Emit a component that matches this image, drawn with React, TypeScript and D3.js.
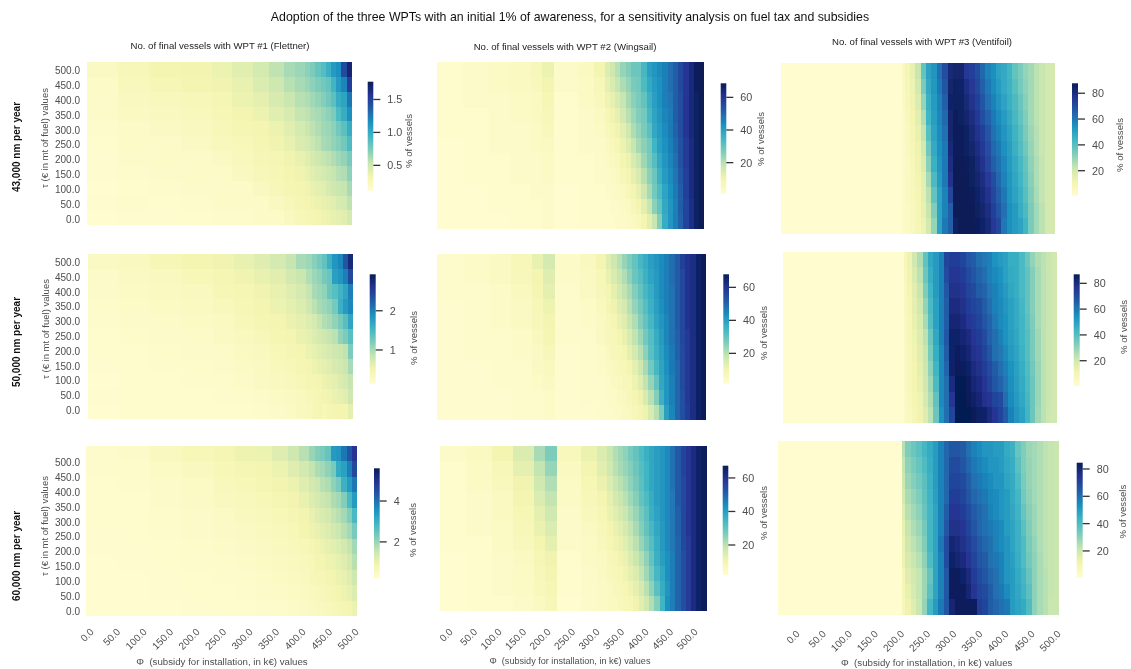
import React from "react";
import * as d3 from "d3";

const mainTitle = "Adoption of the three WPTs with an initial 1% of awareness, for a sensitivity analysis on fuel tax and subsidies";
const columnTitles = ["No. of final vessels with WPT #1 (Flettner)", "No. of final vessels with WPT #2 (Wingsail)", "No. of final vessels with WPT #3 (Ventifoil)"];
const rowTitles = ["43,000 nm per year", "50,000 nm per year", "60,000 nm per year"];
const tauTicks = [500, 450, 400, 350, 300, 250, 200, 150, 100, 50, 0];
const phiTicks = [0, 50, 100, 150, 200, 250, 300, 350, 400, 450, 500];
const yAxisLabel = "τ (€ in mt of fuel) values";
const xAxisLabel = "Φ  (subsidy for installation, in k€) values";
const colorbarLabel = "% of vessels";

// start of each column band (k€), one list per technology
const flettnerPhi = [0, 60, 120, 180, 240, 280, 320, 350, 380, 400, 420, 430, 440, 450, 460, 470, 480, 490, 500];
const wingsailPhi = [0, 50, 100, 140, 180, 200, 224, 270, 300, 320, 330, 340, 350, 360, 370, 380, 390, 400, 410, 420, 430, 440, 450, 460, 470, 480, 490, 500];
const ventifoilPhi = [0, 225, 230, 240, 250, 260, 270, 280, 290, 300, 310, 320, 330, 340, 350, 360, 370, 380, 390, 400, 410, 420, 430, 440, 450, 460, 470, 480, 490, 500];

// rows run from tau = 500 (top) to tau = 0 (bottom)
const flettner43 = [
  [.20,.26,.32,.33,.36,.42,.48,.55,.62,.66,.70,.75,.82,.88,.98,1.1,1.15,1.45,1.68],
  [.18,.24,.28,.32,.34,.38,.44,.50,.58,.62,.66,.70,.74,.78,.82,.95,1.1,1.2,1.5],
  [.17,.22,.24,.26,.30,.36,.40,.46,.52,.58,.60,.64,.68,.72,.78,.85,1.0,1.05,1.25],
  [.16,.20,.22,.24,.28,.32,.36,.42,.46,.54,.56,.60,.62,.66,.70,.75,.90,1.0,1.15],
  [.15,.18,.20,.22,.26,.30,.32,.36,.42,.48,.52,.56,.60,.64,.66,.70,.78,.85,1.0],
  [.14,.17,.18,.20,.24,.26,.30,.34,.38,.44,.48,.52,.56,.62,.64,.68,.72,.78,.90],
  [.13,.16,.17,.18,.20,.24,.28,.30,.34,.38,.42,.46,.50,.54,.56,.60,.64,.68,.76],
  [.13,.15,.16,.17,.18,.22,.26,.28,.32,.34,.38,.42,.44,.48,.50,.54,.58,.60,.70],
  [.12,.14,.15,.16,.17,.18,.22,.26,.30,.32,.34,.38,.40,.42,.46,.50,.52,.54,.62],
  [.13,.15,.14,.15,.17,.17,.18,.22,.26,.30,.32,.34,.36,.38,.40,.42,.46,.48,.56],
  [.12,.13,.13,.14,.15,.15,.17,.18,.22,.26,.28,.30,.32,.34,.36,.38,.40,.42,.48],
];
const flettner50 = [
  [.28,.34,.42,.48,.52,.58,.66,.75,.85,1.0,1.05,1.15,1.25,1.35,1.6,1.85,1.95,2.3,2.75],
  [.24,.28,.34,.40,.46,.52,.58,.64,.76,.82,.95,1.05,1.1,1.25,1.3,1.75,1.85,2.0,2.4],
  [.22,.26,.30,.34,.42,.46,.52,.58,.66,.75,.85,1.0,1.05,1.1,1.3,1.4,1.55,1.7,2.0],
  [.20,.24,.26,.30,.36,.42,.50,.55,.62,.68,.78,.90,1.0,1.05,1.1,1.25,1.6,1.8,1.95],
  [.19,.22,.24,.26,.30,.38,.44,.50,.56,.62,.68,.74,.85,.95,1.0,1.1,1.25,1.4,1.7],
  [.18,.20,.22,.24,.28,.32,.38,.44,.50,.56,.62,.68,.75,.80,.85,.90,1.1,1.2,1.4],
  [.17,.18,.20,.22,.24,.30,.34,.40,.44,.48,.55,.60,.65,.70,.74,.78,.82,.88,1.2],
  [.16,.18,.19,.20,.22,.26,.30,.36,.40,.44,.48,.54,.58,.62,.66,.72,.76,.82,1.0],
  [.15,.17,.18,.19,.20,.24,.28,.32,.36,.40,.44,.46,.50,.55,.58,.62,.70,.75,.85],
  [.16,.18,.17,.18,.19,.20,.24,.26,.30,.34,.38,.42,.46,.48,.52,.56,.60,.65,.78],
  [.15,.17,.17,.17,.18,.18,.20,.22,.26,.32,.36,.42,.44,.40,.44,.48,.48,.50,.62],
];
const flettner60 = [
  [.3,.35,.55,.7,.8,.95,1.0,1.2,1.45,1.7,2.0,2.2,2.3,2.5,3.4,3.5,3.9,4.4,4.9],
  [.3,.32,.45,.55,.7,.8,.85,1.0,1.2,1.4,1.6,1.8,1.9,2.1,2.3,3.1,3.3,3.8,4.6],
  [.28,.3,.4,.45,.6,.7,.8,.9,1.0,1.2,1.4,1.5,1.7,1.8,2.1,2.3,3.0,3.4,3.9],
  [.27,.28,.35,.42,.55,.6,.7,.8,.9,1.05,1.25,1.35,1.5,1.6,1.8,1.9,2.2,2.8,3.4],
  [.26,.27,.32,.38,.45,.55,.62,.7,.8,.9,1.05,1.2,1.3,1.4,1.6,1.7,1.9,2.2,2.8],
  [.25,.26,.3,.35,.42,.48,.55,.6,.7,.85,.95,1.05,1.15,1.25,1.4,1.5,1.7,1.9,2.3],
  [.24,.25,.28,.32,.38,.42,.48,.55,.62,.7,.8,.9,1.0,1.1,1.15,1.25,1.4,1.6,1.9],
  [.23,.24,.27,.3,.34,.38,.44,.5,.56,.62,.7,.85,.85,.95,1.0,1.1,1.2,1.4,1.7],
  [.22,.23,.25,.28,.3,.34,.4,.46,.5,.56,.65,.75,.75,.85,.9,1.0,1.05,1.2,1.45],
  [.22,.22,.24,.26,.28,.3,.35,.4,.45,.5,.55,.62,.65,.75,.8,.85,.95,1.05,1.25],
  [.22,.22,.23,.25,.27,.28,.3,.34,.38,.42,.48,.55,.58,.62,.7,.75,.8,.85,1.0],
];
const wingsail43 = [
  [2,3,4,5,7,11,3,5,9,14,17,20,24,26,29,29,34,40,42,44,46,49,52,56,60,64,68,69],
  [2,3,4,5,6,9,3,4,7,12,15,18,21,24,27,28,33,38,41,43,46,49,52,56,60,64,68,69],
  [2,3,3,4,5,8,2,4,6,10,12,15,18,22,25,27,30,36,40,43,46,48,52,55,60,64,67,69],
  [2,2,3,4,5,7,2,3,5,8,10,12,16,20,23,26,28,34,39,42,45,47,52,55,60,64,67,69],
  [2,2,3,3,4,6,2,3,4,6,8,10,13,17,21,24,27,31,38,41,44,47,51,55,60,64,67,69],
  [1,2,3,3,4,5,2,3,3,5,6,8,11,14,18,22,25,28,35,40,43,46,50,54,59,63,67,69],
  [1,2,2,3,3,4,2,2,3,4,5,6,9,11,15,18,23,27,32,38,42,45,49,54,59,63,67,69],
  [1,2,2,3,3,4,2,2,3,3,4,5,7,9,12,15,20,25,29,36,41,44,48,53,58,63,67,69],
  [1,1,2,2,3,3,1,2,2,3,3,4,5,7,9,12,17,22,28,33,39,43,47,52,58,63,67,69],
  [1,1,2,2,2,3,1,2,2,2,3,3,4,5,7,9,13,18,25,30,38,42,46,52,57,62,67,69],
  [1,1,1,2,2,3,1,2,2,2,2,3,3,4,5,6,9,13,18,26,37,42,46,51,57,62,67,69],
];
const wingsail50 = [
  [3,4,5,8,12,16,4,6,10,14,17,20,24,27,30,34,37,40,42,44,46,49,52,57,60,62,66,68],
  [3,4,5,7,10,14,4,5,8,12,15,18,21,25,29,32,36,39,41,44,46,49,52,56,60,62,66,68],
  [3,3,4,6,9,13,3,5,7,10,13,16,19,22,26,30,34,37,41,44,46,48,52,56,60,62,66,68],
  [2,3,4,5,8,11,3,4,6,9,11,14,16,20,24,28,32,36,40,43,46,48,52,56,60,62,66,68],
  [2,3,4,5,7,10,3,4,5,8,9,12,14,18,21,26,30,34,39,42,45,48,52,56,60,62,66,68],
  [2,3,3,4,6,9,3,3,5,7,8,10,12,15,19,23,28,32,37,41,45,48,51,56,59,62,66,68],
  [2,3,3,4,5,7,2,3,4,6,7,8,10,13,16,20,25,31,36,40,44,47,51,55,59,62,66,68],
  [2,2,3,3,5,6,2,3,4,5,6,7,8,10,13,17,22,28,34,39,43,47,50,55,59,62,66,68],
  [2,2,3,3,4,5,2,3,3,4,5,6,7,8,11,14,19,24,30,38,42,46,50,55,59,62,66,68],
  [2,2,2,3,3,4,2,3,3,4,4,5,6,7,9,11,15,20,26,36,42,46,50,54,59,62,66,68],
  [2,2,2,3,3,4,2,2,3,3,4,4,5,6,7,9,11,15,20,27,40,45,50,54,58,62,66,68],
];
const wingsail60 = [
  [4,6,10,15,22,27,7,12,15,18,21,23,25,28,30,33,36,38,40,42,44,48,52,56,59,62,65,67],
  [3,5,8,13,19,24,6,10,14,17,20,22,24,26,29,32,35,38,40,42,44,48,52,56,59,62,65,67],
  [3,5,7,11,17,21,5,9,12,15,18,20,22,25,28,31,35,38,40,42,44,48,52,55,59,62,65,67],
  [3,4,6,10,15,19,5,8,10,13,16,18,20,23,26,30,33,37,40,42,44,47,52,55,59,62,65,67],
  [3,4,6,9,13,17,4,7,9,12,14,16,18,21,24,28,31,36,39,42,44,47,51,55,59,62,65,67],
  [3,4,5,8,12,15,4,6,8,10,12,14,16,19,22,26,30,34,38,41,44,47,51,55,59,62,65,67],
  [3,3,5,7,10,13,4,5,7,9,11,12,14,17,20,24,28,32,37,41,44,47,50,55,58,62,65,67],
  [2,3,4,6,9,11,3,5,6,8,9,11,12,15,18,21,25,30,36,40,43,46,50,54,58,62,65,67],
  [2,3,4,5,8,10,3,4,6,7,8,9,11,13,15,19,23,28,34,38,43,46,50,54,58,62,65,67],
  [2,3,4,5,7,9,3,4,5,6,7,8,9,11,13,16,20,25,31,37,42,46,50,54,58,62,65,67],
  [2,3,3,4,6,8,2,4,5,6,6,7,8,9,11,14,17,21,26,35,43,46,50,54,58,62,65,67],
];
const ventifoil43 = [
  [.5,5,10,14,22,38,50,54,62,70,82,84,84,76,74,70,64,58,55,50,48,44,38,34,30,28,24,22,20,19],
  [.5,4,9,13,20,34,48,53,60,68,84,86,85,80,76,72,66,60,56,52,48,45,40,35,31,28,24,22,20,19],
  [.5,4,8,12,18,30,46,52,58,66,85,86,86,82,78,74,68,62,58,54,50,46,42,37,32,28,24,22,20,19],
  [.5,3,7,11,16,26,44,51,57,64,84,87,86,84,80,76,70,65,60,56,52,48,43,38,33,28,24,22,20,19],
  [.5,3,6,10,14,23,40,50,56,62,84,87,87,86,82,78,74,68,62,58,54,50,45,40,34,29,25,22,20,19],
  [.5,3,6,9,13,20,36,48,55,60,82,87,87,86,84,80,76,70,64,60,55,51,46,41,36,30,25,22,20,19],
  [.5,3,5,8,12,18,32,46,54,60,80,88,88,87,86,82,78,72,66,62,57,52,48,43,38,31,26,23,20,19],
  [.5,3,5,7,11,16,28,42,52,60,78,88,88,88,86,84,80,75,70,64,58,53,49,44,39,32,26,23,20,19],
  [.5,3,5,7,10,15,24,38,50,58,72,88,88,88,87,85,82,78,72,66,60,54,50,46,40,33,27,23,20,19],
  [.5,3,4,6,10,14,22,33,50,58,66,88,88,88,88,86,84,80,74,68,62,55,52,47,42,34,28,24,20,19],
  [.5,3,4,6,9,13,20,30,50,60,66,86,88,88,88,87,85,82,76,72,60,55,52,50,44,34,28,24,20,19],
];
const ventifoil50 = [
  [.5,8,13,20,26,38,48,52,58,72,74,74,72,68,66,62,60,58,54,52,50,46,46,42,36,30,26,24,22,20],
  [.5,7,12,18,24,36,46,52,58,70,76,76,74,70,68,64,62,58,56,54,50,47,46,42,38,32,27,24,22,20],
  [.5,6,11,16,22,33,44,52,58,68,78,78,76,72,70,66,64,60,58,55,52,48,46,42,38,32,27,24,22,20],
  [.5,6,10,15,20,30,42,50,58,66,80,80,78,74,72,70,66,62,58,56,53,50,47,43,38,32,27,24,22,20],
  [.5,5,9,14,18,27,40,50,58,66,82,82,80,76,74,72,68,64,60,56,54,50,47,44,39,33,27,24,22,20],
  [.5,5,9,13,17,24,36,48,58,68,84,84,82,80,76,74,70,65,62,58,54,51,48,44,40,34,28,24,22,20],
  [.5,5,8,12,16,22,34,46,56,66,84,86,84,82,78,76,72,68,62,60,56,52,49,45,40,34,28,24,22,20],
  [.5,5,8,11,15,21,31,44,56,64,84,87,86,84,80,78,74,70,66,62,58,54,50,46,41,35,29,24,22,20],
  [.5,5,8,11,14,20,28,42,56,62,80,88,88,86,82,80,76,72,68,64,60,55,51,47,42,36,29,24,22,20],
  [.5,4,7,10,13,19,26,38,56,62,76,88,88,87,84,82,78,76,72,70,62,56,52,48,43,36,29,24,22,20],
  [.5,4,6,9,12,17,24,36,54,62,72,88,88,88,87,85,84,80,76,72,66,58,53,50,44,36,28,24,21,20],
];
const ventifoil60 = [
  [.5,24,32,35,38,42,46,50,56,62,66,66,64,60,56,54,52,52,50,50,46,44,36,32,28,27,25,23,22,21],
  [.5,22,30,33,36,40,45,50,56,62,68,68,66,62,58,56,54,52,52,50,47,45,38,32,29,27,25,23,22,21],
  [.5,20,28,31,34,38,44,50,56,62,70,70,68,64,60,58,56,54,52,52,48,46,40,33,29,27,25,23,22,21],
  [.5,18,26,29,32,37,43,49,56,62,72,72,70,66,62,60,58,55,54,52,50,46,42,34,30,27,25,23,22,21],
  [.5,16,24,27,30,36,42,48,56,64,74,74,72,68,64,62,60,56,54,52,50,47,43,36,31,28,25,23,22,21],
  [.5,14,22,25,28,34,42,48,56,66,76,76,74,70,66,62,60,58,56,54,50,48,44,38,32,28,25,23,22,21],
  [.5,13,20,23,26,32,42,48,58,68,80,78,76,72,68,64,62,60,56,54,52,48,44,40,33,29,25,23,22,21],
  [.5,12,18,21,24,30,40,48,56,68,82,80,78,74,70,66,64,60,58,56,52,49,45,40,34,30,26,23,22,21],
  [.5,10,16,19,22,28,36,48,56,66,84,84,82,78,72,68,66,62,60,56,52,50,46,42,36,30,26,24,22,21],
  [.5,9,14,18,22,28,38,48,56,66,84,84,84,80,74,70,68,64,60,58,54,50,47,43,38,30,26,24,22,21],
  [.5,8,12,16,21,29,42,50,58,66,80,84,84,84,84,72,70,64,62,60,58,50,48,46,40,30,26,24,21,21],
];

// colour limits and colourbar ticks
const limits = [
  [[0.115, 1.77], [1, 68.6], [0.4, 87.7]],
  [[0.14, 2.93], [1.6, 67.9], [0.4, 87]],
  [[0.2, 5.6], [2.1, 67.3], [0.4, 84.6]],
];
const barTicks = [
  [[0.5, 1, 1.5], [20, 40, 60], [20, 40, 60, 80]],
  [[1, 2], [20, 40, 60], [20, 40, 60, 80]],
  [[2, 4], [20, 40, 60], [20, 40, 60, 80]],
];
const matrix = [
  [flettner43, wingsail43, ventifoil43],
  [flettner50, wingsail50, ventifoil50],
  [flettner60, wingsail60, ventifoil60],
];
const columnsPhi = [flettnerPhi, wingsailPhi, ventifoilPhi];
const palette = ["#fffcd0", "#f4f5b0", "#c9e6b0", "#7fcdbb", "#41b6c4", "#1d91c0", "#225ea8", "#253494", "#081d58"];

// layout: [x0, x1, y0, y1] of heatmap, [x0, x1, y0, y1] of colourbar, [x, y] of its label
const layout: any[][] = [
  [
    { hm: [87.3, 351.7, 62, 225.3], cb: [367.7, 373.3, 81.7, 190.7], lab: [408, 141], yt: [70.7, 219], yl: [44, 138], rt: [16, 147] },
    { hm: [436.7, 704.3, 62, 229.3], cb: [720.7, 726.3, 83.3, 193.7], lab: [760, 139] },
    { hm: [780.7, 1055.3, 63.3, 234], cb: [1072, 1078, 83.3, 196], lab: [1119, 145] },
  ],
  [
    { hm: [88, 353.3, 254.3, 419], cb: [369.7, 375.7, 274.3, 383.7], lab: [413, 338], yt: [262.7, 410.3], yl: [45, 329], rt: [16, 342] },
    { hm: [437.3, 706.3, 254, 420], cb: [723.3, 729, 274.3, 383.7], lab: [763, 333] },
    { hm: [783.3, 1056.7, 251.7, 422.7], cb: [1073.7, 1079.7, 274.3, 386], lab: [1123, 327] },
  ],
  [
    { hm: [85.7, 357.3, 446, 616], cb: [374, 379.7, 468.3, 578.7], lab: [412, 530], yt: [462.7, 611], yl: [44, 526], rt: [16, 556], xt: [92, 357, 630], xl: [222, 661.5, 9.7] },
    { hm: [440, 706.7, 446, 611.3], cb: [722.7, 728.3, 465.7, 575], lab: [763, 513], xt: [451, 696, 630], xl: [570, 660.5, 9.1] },
    { hm: [778.3, 1059.3, 441, 615.3], cb: [1076.7, 1082.7, 462.7, 577.7], lab: [1122.7, 511.7], xt: [798, 1059, 632], xl: [926.7, 662.5, 9.7] },
  ],
];
const titlePositions = [[220, 45], [565, 46], [922, 41]];

const ramp = d3.piecewise(d3.interpolateRgb, palette);
const FONT = "'Liberation Sans', Arial, sans-serif";
const INK = "#4d4d4d";

function Heatmap({ r, c }: { r: number; c: number }) {
  const L = layout[r][c];
  const rows: number[][] = matrix[r][c];
  const phi = columnsPhi[c];
  const [vmin, vmax] = limits[r][c];
  const color = d3.scaleSequential(ramp).domain([vmin, vmax]);
  const x = d3.scaleLinear().domain([0, 510]).range([L.hm[0], L.hm[1]]);
  const y = d3.scaleBand<number>().domain(tauTicks).range([L.hm[2], L.hm[3]]);
  const cb = d3.scaleLinear().domain([vmin, vmax]).range([L.cb[3], L.cb[2]]);
  const gradId = `bar-${r}-${c}`;
  const stops = d3.range(0, 1.0001, 0.125);
  return (
    <g>
      <g filter="url(#softer)" shapeRendering="crispEdges">
        {rows.map((row, ri) =>
          row.map((v, ci) => {
            const x0 = Math.round(x(phi[ci]));
            const x1 = Math.round(x(ci + 1 < phi.length ? phi[ci + 1] : 510));
            const y0 = Math.round(y(tauTicks[ri]) as number);
            const y1 = Math.round((y(tauTicks[ri]) as number) + y.bandwidth());
            return <rect key={`${ri}-${ci}`} x={x0} y={y0} width={x1 - x0} height={y1 - y0} fill={color(v)} />;
          })
        )}
      </g>
      <defs>
        <linearGradient id={gradId} x1="0" y1="1" x2="0" y2="0">
          {stops.map((s) => <stop key={s} offset={s} stopColor={ramp(s)} />)}
        </linearGradient>
      </defs>
      <rect x={L.cb[0]} y={L.cb[2]} width={L.cb[1] - L.cb[0]} height={L.cb[3] - L.cb[2]} fill={`url(#${gradId})`} />
      {barTicks[r][c].map((t) => (
        <g key={t}>
          <line x1={L.cb[1]} x2={L.cb[1] + 7} y1={cb(t)} y2={cb(t)} stroke="#333" strokeWidth={1.3} />
          <text x={L.cb[1] + 14} y={cb(t)} dominantBaseline="central" fontSize={10.8} fill={INK}>{r === 0 && c === 0 ? t.toFixed(1) : t}</text>
        </g>
      ))}
      <text transform={`translate(${L.lab[0]},${L.lab[1]}) rotate(-90)`} textAnchor="middle" dominantBaseline="central" fontSize={9.6} fill={INK}>{colorbarLabel}</text>
      {L.yt && tauTicks.map((t) => {
        const ty = d3.scaleLinear().domain([500, 0]).range(L.yt);
        return <text key={t} x={80} y={ty(t)} textAnchor="end" dominantBaseline="central" fontSize={10} fill={INK}>{t.toFixed(1)}</text>;
      })}
      {L.yl && <text transform={`translate(${L.yl[0]},${L.yl[1]}) rotate(-90)`} textAnchor="middle" dominantBaseline="central" fontSize={9.5} fill={INK}>{yAxisLabel}</text>}
      {L.rt && <text transform={`translate(${L.rt[0]},${L.rt[1]}) rotate(-90)`} textAnchor="middle" dominantBaseline="central" fontSize={10} fontWeight="bold" fill="#111">{rowTitles[r]}</text>}
      {L.xt && phiTicks.map((t) => {
        const tx = d3.scaleLinear().domain([0, 500]).range([L.xt[0], L.xt[1]]);
        return <text key={t} transform={`translate(${tx(t)},${L.xt[2]}) rotate(-45)`} textAnchor="end" dominantBaseline="central" fontSize={10} fill={INK}>{t.toFixed(1)}</text>;
      })}
      {L.xl && <text x={L.xl[0]} y={L.xl[1]} textAnchor="middle" dominantBaseline="central" fontSize={L.xl[2]} fill={INK} xmlSpace="preserve">{xAxisLabel}</text>}
    </g>
  );
}

export default function App() {
  return (
    <svg width={1131} height={669} viewBox="0 0 1131 669" fontFamily={FONT} style={{ position: "absolute", left: 0, top: 0, display: "block", background: "#fff" }}>
      <defs>
        <filter id="soft" x="0" y="0" width="1131" height="669" filterUnits="userSpaceOnUse">
          <feGaussianBlur stdDeviation="0.4" />
        </filter>
        <filter id="softer" x="0" y="0" width="1131" height="669" filterUnits="userSpaceOnUse">
          <feGaussianBlur stdDeviation="0.75" />
        </filter>
      </defs>
      <g filter="url(#soft)">
        <rect width={1131} height={669} fill="#fff" />
        <text x={570} y={17} textAnchor="middle" dominantBaseline="central" fontSize={12.35} fill="#111">{mainTitle}</text>
        {columnTitles.map((t, i) => (
          <text key={t} x={titlePositions[i][0]} y={titlePositions[i][1]} textAnchor="middle" dominantBaseline="central" fontSize={9.6} fill="#222">{t}</text>
        ))}
        {matrix.map((row, r) => row.map((_, c) => <Heatmap key={`${r}${c}`} r={r} c={c} />))}
      </g>
    </svg>
  );
}
